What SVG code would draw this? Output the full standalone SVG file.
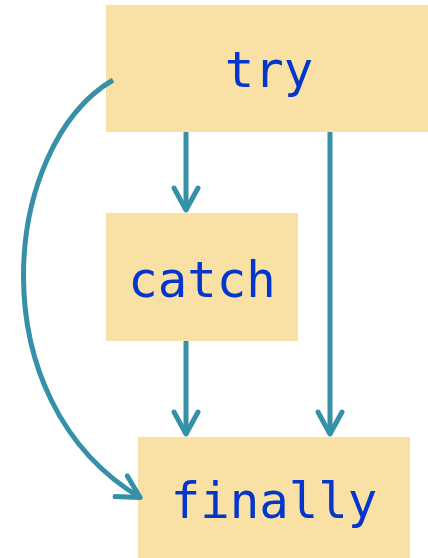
<svg xmlns="http://www.w3.org/2000/svg" width="428" height="558" viewBox="0 0 428 558">
  <defs>
    <style>
      .box { fill: #f9e1a5; }
      .lbl { font-family: "DejaVu Sans Mono", "Liberation Mono", monospace; font-size: 49px; fill: #0536cc; text-anchor: middle; }
      .edge { fill: none; stroke: #3690a8; stroke-width: 5; marker-end: url(#chevron); }
    </style>
    <marker id="chevron" markerUnits="userSpaceOnUse" viewBox="-30 -16 34 32" refX="0" refY="0" markerWidth="34" markerHeight="32" orient="auto">
      <path d="M-23,-12 L-1,0 L-23,12" fill="none" stroke="#3690a8" stroke-width="5" stroke-linecap="round" stroke-linejoin="round"/>
    </marker>
  </defs>

  <g id="node-try">
    <rect class="box" x="106" y="5" width="322" height="127"/>
    <text class="lbl" x="269" y="87">try</text>
  </g>
  <g id="node-catch">
    <rect class="box" x="106" y="213" width="192" height="128"/>
    <text class="lbl" x="202" y="297">catch</text>
  </g>
  <g id="node-finally">
    <rect class="box" x="138" y="437" width="272" height="121"/>
    <text class="lbl" x="274" y="518">finally</text>
  </g>

  <!-- connectors sit above the boxes so the curved edge shows its start and tip -->
  <g id="connectors">
    <path class="edge" d="M186,132 L186,211"/>
    <path class="edge" d="M186,341 L186,435"/>
    <path class="edge" d="M330,132 L330,435"/>
    <path class="edge" d="M113,80 C2,145 -24,400 141,498"/>
  </g>
</svg>
